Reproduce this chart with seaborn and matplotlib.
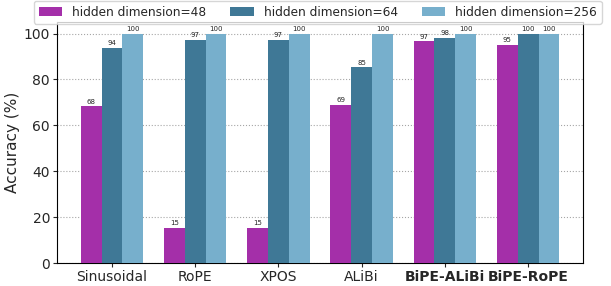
import matplotlib
matplotlib.use("Agg")
import matplotlib.pyplot as plt
import seaborn as sns
import numpy as np
import pandas as pd

methods = ["Sinusoidal", "RoPE", "XPOS", "ALiBi", "BiPE-ALiBi", "BiPE-RoPE"]
acc_48 = [68.4, 15.4, 15.4, 69.0, 96.6, 95.2]
acc_64 = [93.9, 97.3, 97.3, 85.4, 98.2, 100.0]
acc_256 = [100.0, 100.0, 100.0, 100.0, 100.0, 100.0]
series = ["hidden dimension=48", "hidden dimension=64", "hidden dimension=256"]
colors = ["#a42fa9", "#3f7896", "#77afcc"]

df = pd.DataFrame({
    "method": methods * 3,
    "acc": acc_48 + acc_64 + acc_256,
    "dim": [series[0]] * 6 + [series[1]] * 6 + [series[2]] * 6,
})

sns.set_style("white")
fig = plt.figure(figsize=(6.11, 2.86), dpi=100)
ax = fig.add_axes([0.0933, 0.080, 0.861, 0.843])

sns.barplot(data=df, x="method", y="acc", hue="dim", palette=colors,
            width=0.75, saturation=1, ax=ax, zorder=3, linewidth=0)

for c in ax.containers:
    ax.bar_label(c, labels=[f"{v:.0f}" for v in c.datavalues], fontsize=5, padding=1)

ax.set_ylim(0, 105)
ax.set_xlim(-0.66, 5.66)
ax.set_yticks([0, 20, 40, 60, 80, 100])
ax.yaxis.grid(True, linestyle=":", color="gray", alpha=0.7, zorder=0)
ax.set_xlabel("")
ax.set_ylabel("Accuracy (%)", fontsize=11, labelpad=3)
ax.tick_params(axis="both", labelsize=10, length=3, pad=2, left=True, bottom=True)
for lbl in ax.get_xticklabels():
    if lbl.get_text().startswith("BiPE"):
        lbl.set_fontweight("bold")
for s in ax.spines.values():
    s.set_color("black")

ax.legend(loc="upper left", bbox_to_anchor=(34 / 611, 1 - 1 / 286),
          bbox_transform=fig.transFigure, ncol=3, fontsize=8.7,
          frameon=True, handlelength=1.95, handletextpad=0.8,
          columnspacing=2.0, borderaxespad=0)

fig.savefig("out.png", dpi=100)
